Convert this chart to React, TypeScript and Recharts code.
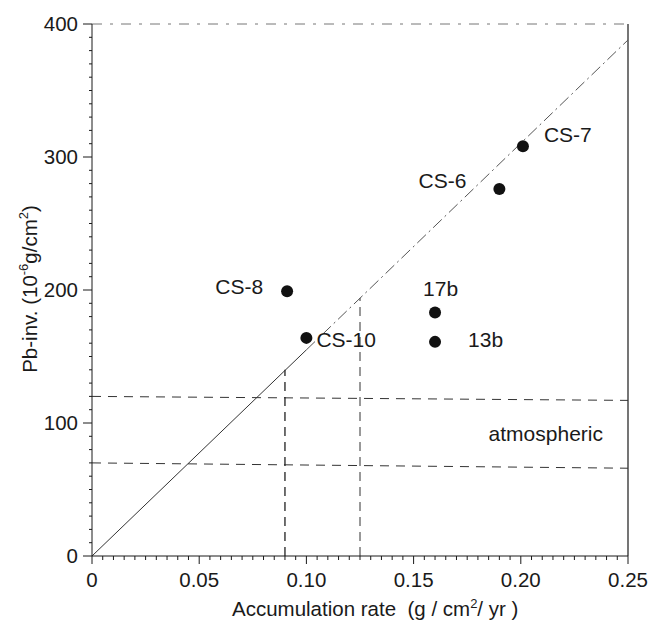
import React from 'react';
import {
  ComposedChart,
  XAxis,
  YAxis,
  Scatter,
  ReferenceLine,
  LabelList,
  Label,
} from 'recharts';

// Core samples: name, accumulation rate (g/cm2/yr), Pb inventory (10^-6 g/cm2)
const sampleNames = ['CS-7', 'CS-6', 'CS-8', 'CS-10', '17b', '13b'];
const accumulationRates = [0.201, 0.19, 0.091, 0.1, 0.16, 0.16];
const pbInventories = [308, 276, 199, 164, 183, 161];

// Axis ticks
const xMajorTicks = [0, 0.05, 0.1, 0.15, 0.2, 0.25];
const xTickLabels = ['0', '0.05', '0.10', '0.15', '0.20', '0.25'];
const yMajorTicks = [0, 100, 200, 300, 400];
const yTickLabels = ['0', '100', '200', '300', '400'];
const xMinorStep = 0.005;
const yMinorStep = 10;

// Reference lines (endpoints in data units)
const slopeSolid = [
  { x: 0, y: 0 },
  { x: 0.1, y: 155 },
];
const slopeDashed = [
  { x: 0.1, y: 155 },
  { x: 0.25, y: 388 },
];
const atmosphericUpper = [
  { x: 0, y: 120 },
  { x: 0.25, y: 117 },
];
const atmosphericLower = [
  { x: 0, y: 70 },
  { x: 0.25, y: 66 },
];
const dropLineA = [
  { x: 0.09, y: 0 },
  { x: 0.09, y: 140 },
];
const dropLineB = [
  { x: 0.125, y: 0 },
  { x: 0.125, y: 194 },
];

const FONT = '"Liberation Sans", Arial, Helvetica, sans-serif';
const INK = '#1a1a1a';
const TICK_FS = 20.5;
const LABEL_FS = 21;
const TITLE_FS = 20.5;

// label placement relative to each point (style, not data)
const labelOffsets: Record<string, { dx: number; dy: number; anchor: string }> = {
  'CS-7': { dx: 21, dy: -4, anchor: 'start' },
  'CS-6': { dx: -33, dy: -1, anchor: 'end' },
  'CS-8': { dx: -24, dy: 3, anchor: 'end' },
  'CS-10': { dx: 10, dy: 9, anchor: 'start' },
  '17b': { dx: -12, dy: -17, anchor: 'start' },
  '13b': { dx: 33, dy: 5, anchor: 'start' },
};

const points = sampleNames.map((name, i) => ({
  name,
  x: accumulationRates[i],
  y: pbInventories[i],
}));

const xAllTicks = Array.from({ length: 51 }, (_, i) => +(i * xMinorStep).toFixed(3));
const yAllTicks = Array.from({ length: 41 }, (_, i) => i * yMinorStep);

const majorIndex = (list: number[], v: number) =>
  list.findIndex(t => Math.abs(t - v) < 1e-9);

const XTick = ({ x, y, payload }: any) => {
  const idx = majorIndex(xMajorTicks, payload.value);
  const major = idx >= 0;
  return (
    <g>
      <line x1={x} x2={x} y1={y} y2={y + (major ? 8 : 4)} stroke={INK} strokeWidth={1} />
      {major && (
        <text x={x} y={y + 31} textAnchor="middle" fontSize={TICK_FS} fontFamily={FONT} fill={INK}>
          {xTickLabels[idx]}
        </text>
      )}
    </g>
  );
};

const YTick = ({ x, y, payload }: any) => {
  const idx = majorIndex(yMajorTicks, payload.value);
  const major = idx >= 0;
  return (
    <g>
      <line x1={x} x2={x - (major ? 9 : 3)} y1={y} y2={y} stroke={INK} strokeWidth={1} />
      {major && (
        <text x={x - 14} y={y + 7} textAnchor="end" fontSize={TICK_FS} fontFamily={FONT} fill={INK}>
          {yTickLabels[idx]}
        </text>
      )}
    </g>
  );
};

const PointLabel = ({ x, y, width, height, value }: any) => {
  const off = labelOffsets[value] || { dx: 10, dy: 0, anchor: 'start' };
  const cx = x + (width || 0) / 2;
  const cy = y + (height || 0) / 2;
  return (
    <text
      x={cx + off.dx}
      y={cy + off.dy}
      textAnchor={off.anchor as any}
      fontSize={LABEL_FS}
      fontFamily={FONT}
      fill={INK}
    >
      {value}
    </text>
  );
};

const YTitle = ({ viewBox }: any) => {
  const cx = 37;
  const cy = viewBox.y + viewBox.height / 2 - 1;
  return (
    <text
      transform={`translate(${cx},${cy}) rotate(-90)`}
      textAnchor="middle"
      fontSize={TITLE_FS}
      fontFamily={FONT}
      fill={INK}
    >
      Pb-inv. (10
      <tspan fontSize={13} dy={-9}>-6</tspan>
      <tspan dy={9}>g/cm</tspan>
      <tspan fontSize={13} dy={-9}>2</tspan>
      <tspan dy={9}>)</tspan>
    </text>
  );
};

const XTitle = ({ viewBox }: any) => (
  <text
    x={viewBox.x + 140}
    y={616}
    fontSize={TITLE_FS}
    fontFamily={FONT}
    fill={INK}
    style={{ whiteSpace: 'pre' }}
  >
    {'Accumulation rate  (g / cm'}
    <tspan fontSize={13} dy={-8}>2</tspan>
    <tspan dy={8}>{'/ yr )'}</tspan>
  </text>
);

export default function App() {
  return (
    <div style={{ position: 'absolute', left: 0, top: 0, background: '#fff' }}>
      <ComposedChart
        width={661}
        height={625}
        margin={{ top: 24, right: 33, bottom: 19, left: 0 }}
      >
        <XAxis
          type="number"
          dataKey="x"
          domain={[0, 0.25]}
          ticks={xAllTicks}
          interval={0}
          tick={<XTick />}
          tickLine={false}
          tickSize={0}
          tickMargin={0}
          height={50}
          stroke={INK}
          allowDataOverflow
        >
          <Label content={<XTitle />} />
        </XAxis>
        <YAxis
          type="number"
          dataKey="y"
          domain={[0, 400]}
          ticks={yAllTicks}
          interval={0}
          tick={<YTick />}
          tickLine={false}
          tickSize={0}
          tickMargin={0}
          width={92}
          stroke={INK}
          allowDataOverflow
        >
          <Label content={<YTitle />} />
        </YAxis>

        {/* frame */}
        <ReferenceLine y={400} stroke="#777" strokeWidth={1} strokeDasharray="10 8 3 8" />
        <ReferenceLine x={0.25} stroke={INK} strokeWidth={1.2} />

        {/* atmospheric band */}
        <ReferenceLine segment={atmosphericUpper} stroke="#333" strokeWidth={1} strokeDasharray="9 7" />
        <ReferenceLine segment={atmosphericLower} stroke="#333" strokeWidth={1} strokeDasharray="9 7" />

        {/* drop lines */}
        <ReferenceLine segment={dropLineA} stroke="#222" strokeWidth={1.3} strokeDasharray="9 6" />
        <ReferenceLine segment={dropLineB} stroke="#333" strokeWidth={1} strokeDasharray="9 6" />

        {/* regression slope */}
        <ReferenceLine segment={slopeSolid} stroke="#333" strokeWidth={1} />
        <ReferenceLine segment={slopeDashed} stroke="#555" strokeWidth={1} strokeDasharray="12 4 2 4" />

        <Scatter
          data={points}
          dataKey="y"
          isAnimationActive={false}
          shape={(p: any) => <circle cx={p.cx} cy={p.cy} r={6} fill="#111" />}
        >
          <LabelList dataKey="name" content={<PointLabel />} />
        </Scatter>

        <ReferenceLine
          y={92}
          stroke="none"
          label={{
            value: 'atmospheric',
            position: 'insideRight',
            fontSize: LABEL_FS,
            fontFamily: FONT,
            fill: INK,
            dx: -20,
          }}
        />
      </ComposedChart>
    </div>
  );
}
